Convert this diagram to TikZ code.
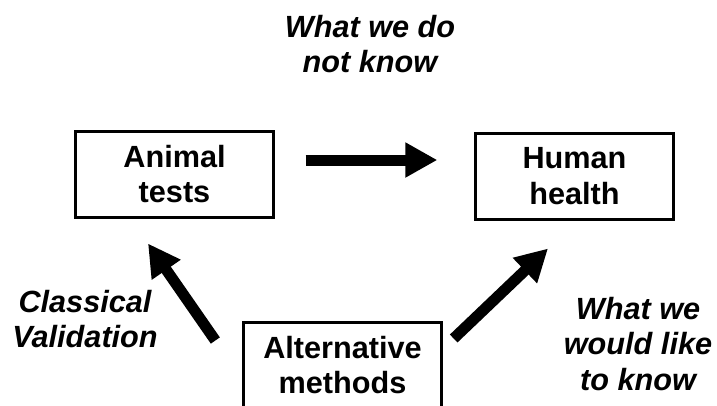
\documentclass[tikz,border=0pt]{standalone}
\usepackage{fontspec}
\setmainfont{Liberation Sans}
\usetikzlibrary{calc,arrows.meta}
\tikzset{
  box/.style={draw, line width=2.25pt, minimum width=148pt, minimum height=64.5pt,
    align=center, inner sep=0pt, font=\bfseries\fontsize{23}{26.5}\selectfont},
  note/.style={align=center, inner sep=0pt,
    font=\bfseries\itshape\fontsize{23}{26.5}\selectfont},
  bigarrow/.style={line width=8.25pt,
    -{Triangle[length=24pt, width=24.75pt]}}
}

\begin{document}
\begin{tikzpicture}[x=0.75pt, y=-0.75pt]

  % Page frame (pixel coordinates, y down)
  \useasboundingbox (0,0) rectangle (717,405);
  \clip (0,0) rectangle (717,405);

  % Boxes
  \node[box] (animal) at (174.5,174) {Animal\\tests};
  \node[box] (human)  at (574.5,176) {Human\\health};
  \node[box] (alt)    at (342.5,365) {Alternative\\methods};

  % Labels
  \node[note] (unknown) at (370,44)  {What we do\\not know};
  \node[note] (classic) at (85,319)  {Classical\\Validation};
  \node[note] (wish)    at (638,344) {What we\\would like\\to know};

  % Arrows
  \draw[bigarrow] ($(animal.east)+(31,-14)$) -- ($(human.west)+(-37,-16)$);
  \draw[bigarrow] ($(alt.north west)+(-27,20)$) -- ($(animal.south)+(-26.5,25)$);
  \draw[bigarrow] ($(alt.north east)+(11,18)$) -- ($(human.south)+(-26.5,28)$);

\end{tikzpicture}
\end{document}
